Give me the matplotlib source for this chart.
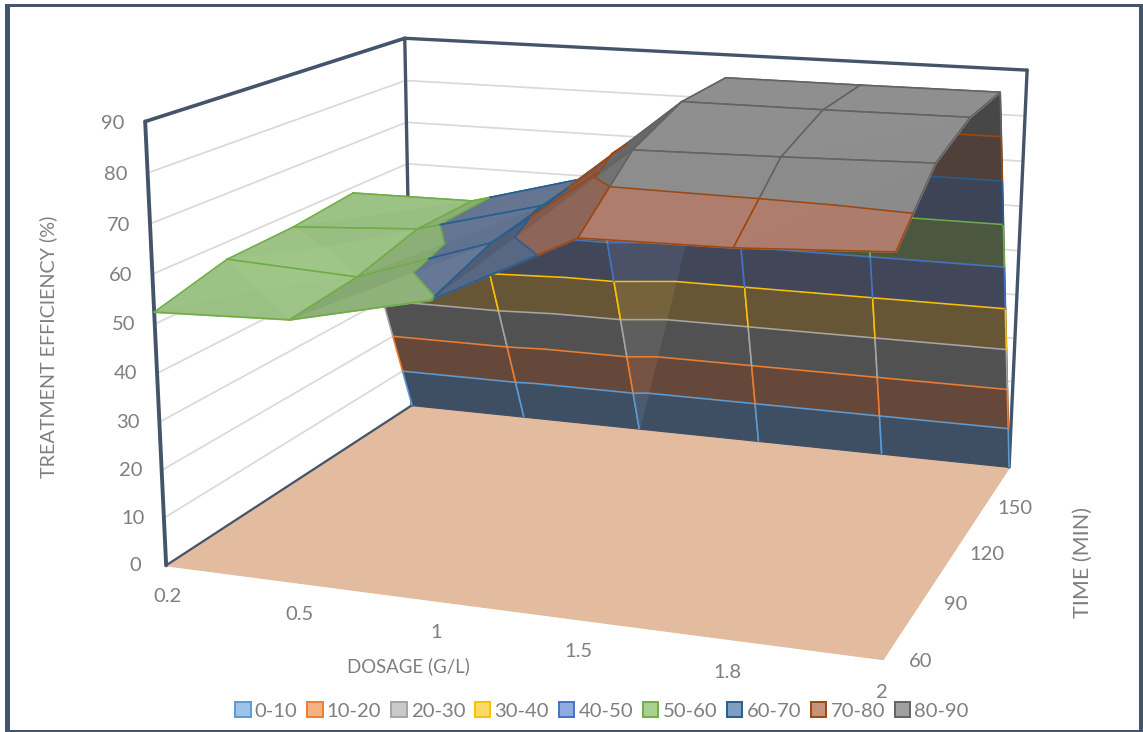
import numpy as np
import matplotlib
matplotlib.use('Agg')
import matplotlib.pyplot as plt
from matplotlib.patches import Patch, Rectangle
from mpl_toolkits.mplot3d.art3d import Poly3DCollection

plt.rcParams['font.family'] = ['Lato', 'DejaVu Sans']

# ---- data ----
dosage = ['0.2', '0.5', '1', '1.5', '1.8', '2']
time_min = ['60', '90', '120', '150', '']
z_60 = [52.4, 53.4, 59.7, 73.8, 74.2, 75.7]
z_90 = [56.4, 55.0, 64.3, 84.7, 85.2, 85.9]
z_120 = [57.0, 58.7, 66.0, 89.3, 89.3, 89.5]
z_150 = [58.7, 58.9, 66.5, 89.7, 89.7, 89.8]
z_blank = [0, 0, 0, 0, 0, 0]
z_ticks = [0, 10, 20, 30, 40, 50, 60, 70, 80, 90]
band_labels = ['0-10', '10-20', '20-30', '30-40', '40-50', '50-60', '60-70', '70-80', '80-90']
band_edges = [0, 10, 20, 30, 40, 50, 60, 70, 80, 90]
line_colors = ['#5B9BD5', '#ED7D31', '#A5A5A5', '#FFC000', '#4472C4', '#70AD47', '#255E91', '#9E480E', '#636363']
top_colors = ['#8FB2D6', '#E8A37C', '#B5B5B5', '#E6C35C', '#8296C4', '#9CC285', '#6F83A3', '#B27F70', '#8F8F8F']
under_colors = ['#3E4F63', '#66483A', '#515151', '#665636', '#414759', '#4B573F', '#3C4455', '#50403C', '#474747']
legend_fills = ['#9DC3E6', '#F4B183', '#C9C9C9', '#FFD966', '#8FAADC', '#A9D18E', '#7F9DBE', '#C8917A', '#A0A0A0']
floor_color = '#E3BB9E'
frame_color = '#44546A'
grid_color = '#D9D9D9'
text_color = '#7F7F7F'

Z = np.array([z_60, z_90, z_120, z_150, z_blank], dtype=float)
ny, nx = Z.shape
W, H = 1143, 732

# ---- the chart's perspective, fixed from where the box corners sit in the image ----
box_world = [(0, 0, 0), (5, 0, 0), (5, 4, 0), (0, 4, 0), (0, 0, 90), (0, 4, 90), (5, 4, 90), (1, 4, 0), (2, 4, 0)]
box_image = [(166, 565), (883, 659), (1009, 467), (412, 405), (145, 122), (405, 38), (1027, 70), (524, 417), (639, 429)]
A = []
for (X, Y, Zw), (u, v) in zip(box_world, box_image):
    v = H - v
    A.append([X, Y, Zw, 1, 0, 0, 0, 0, -u * X, -u * Y, -u * Zw, -u])
    A.append([0, 0, 0, 0, X, Y, Zw, 1, -v * X, -v * Y, -v * Zw, -v])
P = np.linalg.svd(np.array(A, float))[2][-1].reshape(3, 4)
P = P / P[2, 3]


def depth(p):
    return float(P[2] @ np.array([p[0], p[1], p[2], 1.0]))


def screen(p):
    q = P @ np.array([p[0], p[1], p[2], 1.0])
    return q[:2] / q[2]


fig = plt.figure(figsize=(W / 100, H / 100), dpi=100, facecolor='white')
ax = fig.add_axes([0, 0, 1, 1], projection='3d')
ax.set_axis_off()
ax.patch.set_visible(False)
ax.computed_zorder = False
ax.set_proj_type('ortho')


def fixed_proj():
    T = ax.transData.inverted().get_matrix()
    rows = T @ P
    M = np.zeros((4, 4))
    M[0] = rows[0]
    M[1] = rows[1]
    M[2] = P[2] - np.array([0, 0, 0, 0.5])
    M[3] = rows[2]
    return M


ax.get_proj = fixed_proj

rank = [0]


def next_z():
    rank[0] += 1
    return 5 + rank[0] * 0.001


def add_poly(verts, color):
    c = Poly3DCollection([verts], facecolors=color, edgecolors=color, linewidths=0.8)
    c.set_clip_on(False)
    c.set_zorder(next_z())
    ax.add_collection3d(c, autolim=False)


def add_line(a, b, color, lw):
    ax.plot([a[0], b[0]], [a[1], b[1]], [a[2], b[2]], color=color, lw=lw, clip_on=False,
            solid_capstyle='round', zorder=next_z())


# ---- floor, walls, gridlines ----
xmax, ymax, zmax = nx - 1, ny - 1, z_ticks[-1]
add_poly([(0, 0, 0), (xmax, 0, 0), (xmax, ymax, 0), (0, ymax, 0)], floor_color)
for t in z_ticks[1:-1]:
    add_line((0, 0, t), (0, ymax, t), grid_color, 1.25)
    add_line((0, ymax, t), (xmax, ymax, t), grid_color, 1.25)
add_line((0, 0, 0), (0, ymax, 0), frame_color, 1.6)
add_line((0, 0, 0), (0, 0, zmax), frame_color, 2.8)
add_line((0, ymax, 0), (0, ymax, zmax), frame_color, 2.4)
add_line((xmax, ymax, 0), (xmax, ymax, zmax), frame_color, 2.4)
add_line((0, 0, zmax), (0, ymax, zmax), frame_color, 2.6)
add_line((0, ymax, zmax), (xmax, ymax, zmax), frame_color, 2.4)


# ---- helpers for the banded surface ----
def clip(poly, lo, hi):
    def half(pts, level, keep_above):
        out = []
        for k in range(len(pts)):
            a, b = pts[k], pts[(k + 1) % len(pts)]
            ina = a[2] >= level if keep_above else a[2] <= level
            inb = b[2] >= level if keep_above else b[2] <= level
            if ina:
                out.append(a)
            if ina != inb:
                t = (level - a[2]) / (b[2] - a[2])
                out.append(tuple(np.array(a) + t * (np.array(b) - np.array(a))))
        return out
    pts = half(list(poly), lo, True)
    if len(pts) >= 3:
        pts = half(pts, hi, False)
    return pts if len(pts) >= 3 else []


def contour_points(tri, level):
    out = []
    for k in range(3):
        a, b = tri[k], tri[(k + 1) % 3]
        if (a[2] - level) * (b[2] - level) < 0:
            t = (level - a[2]) / (b[2] - a[2])
            out.append(tuple(np.array(a) + t * (np.array(b) - np.array(a))))
    return out


def split_edge(a, b):
    za, zb = a[2], b[2]
    if za > zb:
        a, b, za, zb = b, a, zb, za
    cuts = [l for l in band_edges if za < l < zb]
    pts = [a]
    for l in cuts:
        t = (l - za) / (zb - za)
        pts.append(tuple(np.array(a) + t * (np.array(b) - np.array(a))))
    pts.append(b)
    out = []
    for p, q in zip(pts[:-1], pts[1:]):
        zm = 0.5 * (p[2] + q[2])
        band = min(int(zm // 10), len(line_colors) - 1)
        out.append((p, q, line_colors[band]))
    return out


def shade(color, factor):
    rgb = np.array(matplotlib.colors.to_rgb(color)) * factor
    return tuple(np.clip(rgb, 0, 1))


world = np.array([1 / 5, 1 / 4, 1 / 90 * 0.8])


def tri_color(tri, band):
    a, b, c = [np.array(p) * world for p in tri]
    n = np.cross(b - a, c - a)
    n = n / np.linalg.norm(n)
    sa, sb, sc = [screen(p) for p in tri]
    area = np.cross(sb - sa, sc - sa)
    if area > 0:
        L = np.array([0.5, -0.1, 0.85])
        f = 1 + 0.45 * (n @ L / 0.85 - 1)
        return shade(top_colors[band], min(max(f, 0.72), 1.08))
    return shade(under_colors[band], min(1 + 0.9 * max(0.0, -n[0] - 0.2), 1.25))


# ---- draw the surface, farthest cell first ----
cells = [(i, j) for j in range(ny - 1) for i in range(nx - 1)]
cells.sort(key=lambda c: -depth((c[0] + 0.5, c[1] + 0.5, 0)))
for i, j in cells:
    corners = [(i, j, Z[j, i]), (i + 1, j, Z[j, i + 1]), (i + 1, j + 1, Z[j + 1, i + 1]), (i, j + 1, Z[j + 1, i])]
    heights = [p[2] for p in corners]
    center = (i + 0.5, j + 0.5, 0.5 * (max(heights) + min(heights)))
    tris = [(corners[k], corners[(k + 1) % 4], center) for k in range(4)]
    tris.sort(key=lambda t: -depth(np.mean(t, axis=0)))
    for tri in tris:
        for b in range(len(band_labels)):
            piece = clip(tri, band_edges[b], band_edges[b + 1])
            if piece:
                add_poly(piece, tri_color(tri, b))
    for tri in tris:
        for b in range(len(band_labels)):
            seg = contour_points(tri, band_edges[b + 1])
            if len(seg) == 2:
                add_line(seg[0], seg[1], line_colors[b], 1.15)
    for a, c in zip(corners, corners[1:] + corners[:1]):
        if a[1] == ymax and c[1] == ymax:
            continue
        for p, q, col in split_edge(a, c):
            add_line(p, q, col, 1.15)


# ---- tick labels, placed through the same projection ----
def tick_text(x, y, z, s):
    u, v = screen((x, y, z))
    fig.text(u / W, v / H, s, color=text_color, fontsize=14.5, ha='center', va='center')


for z in z_ticks:
    tick_text(-0.24, 0, z - 0.8, str(z))
for i, lab in enumerate(dosage):
    tick_text(i, 0, -6.6, lab)
for j, lab in enumerate(time_min):
    if lab:
        tick_text(xmax + 0.24, j, 0.5, lab)

# ---- axis titles ----
fig.text(408 / W, 1 - 666 / H, 'DOSAGE (G/L)', color=text_color, fontsize=13.4, ha='center', va='center')
fig.text(48 / W, 1 - 347 / H, 'TREATMENT EFFICIENCY (%)', color=text_color, fontsize=14.2, rotation=90, ha='center', va='center')
fig.text(1083 / W, 1 - 562 / H, 'TIME (MIN)', color=text_color, fontsize=15.5, rotation=90, ha='center', va='center')

# ---- legend ----
handles = [Patch(facecolor=f, edgecolor=e, linewidth=1.4, label=l)
           for f, e, l in zip(legend_fills, line_colors, band_labels)]
fig.legend(handles=handles, ncol=9, loc='center', bbox_to_anchor=(602 / W, 1 - 711 / H), frameon=False,
           fontsize=14.6, labelcolor=text_color, handlelength=0.75, handleheight=0.75,
           handletextpad=0.2, columnspacing=0.5, borderpad=0, borderaxespad=0)

# ---- outer border: bars of the picture frame, in pixels from the top-left corner ----
border_bars = [(5, 4, 10, 732), (5, 4, 1143, 7), (1139, 4, 1143, 732), (5, 730, 1143, 732)]
for x0, y0, x1, y1 in border_bars:
    fig.add_artist(Rectangle((x0 / W, 1 - y1 / H), (x1 - x0) / W, (y1 - y0) / H, transform=fig.transFigure,
                             facecolor=frame_color, edgecolor='none'))

fig.savefig('out.png', dpi=100, facecolor='white')
